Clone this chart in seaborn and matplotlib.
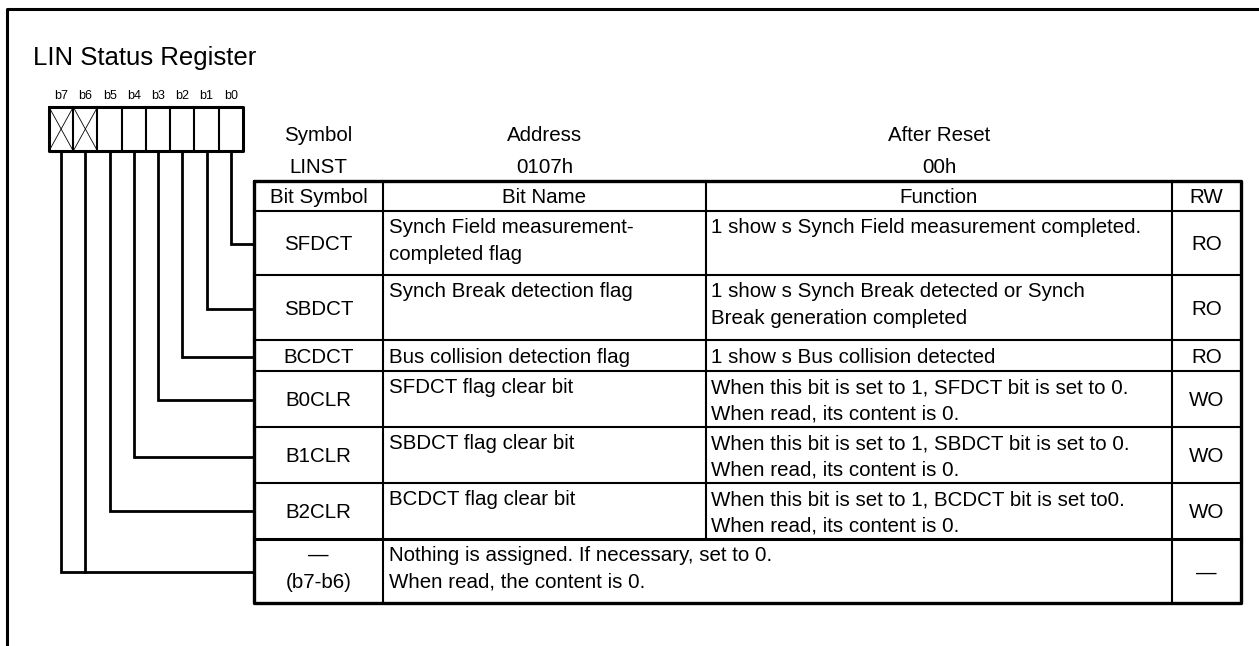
import matplotlib
matplotlib.use("Agg")
import matplotlib.pyplot as plt
import seaborn as sns

# register data
title = "LIN Status Register"
bit_labels = ["b7", "b6", "b5", "b4", "b3", "b2", "b1", "b0"]
reserved_bits = ["b7", "b6"]

head_names = ["Symbol", "Address", "After Reset"]
head_values = ["LINST", "0107h", "00h"]
col_titles = ["Bit Symbol", "Bit Name", "Function", "RW"]

bit_symbols = [["SFDCT"], ["SBDCT"], ["BCDCT"], ["B0CLR"], ["B1CLR"], ["B2CLR"],
               ["\u2014", "(b7-b6)"]]
bit_names = [["Synch Field measurement-", "completed flag"],
             ["Synch Break detection flag"],
             ["Bus collision detection flag"],
             ["SFDCT flag clear bit"],
             ["SBDCT flag clear bit"],
             ["BCDCT flag clear bit"],
             ["Nothing is assigned. If necessary, set to 0.",
              "When read, the content is 0."]]
functions = [["1 show s Synch Field measurement completed."],
             ["1 show s Synch Break detected or Synch", "Break generation completed"],
             ["1 show s Bus collision detected"],
             ["When this bit is set to 1, SFDCT bit is set to 0.", "When read, its content is 0."],
             ["When this bit is set to 1, SBDCT bit is set to 0.", "When read, its content is 0."],
             ["When this bit is set to 1, BCDCT bit is set to0.", "When read, its content is 0."],
             []]
rw = ["RO", "RO", "RO", "WO", "WO", "WO", "\u2014"]
row_bits = [["b0"], ["b1"], ["b2"], ["b3"], ["b4"], ["b5"], ["b7", "b6"]]

# layout (pixel units)
W, H = 1259, 646
col_edges = [254, 383, 706, 1172, 1241]
row_edges = [181, 211, 275, 340, 371, 427, 483, 539, 603]
leader_y = [244, 309, 357, 400, 457, 511, 572]
box_x0, box_y0, box_y1, cell_w = 49, 107, 151, 24.25
FS = 14.8

sns.set_theme(style="white")
plt.rcParams["font.family"] = ["Liberation Sans", "DejaVu Sans"]
plt.rcParams["text.color"] = "black"

fig = plt.figure(figsize=(W / 100, H / 100), dpi=100)
ax = fig.add_axes([0, 0, 1, 1])
ax.set_xlim(0, W)
ax.set_ylim(H, 0)
ax.axis("off")

k = dict(color="black", solid_capstyle="projecting")

# page frame
ax.plot([7, 7, W], [H, 9, 9], lw=2.2, **k)

ax.text(33, 65, title, fontsize=18.5, va="baseline", ha="left")

# bit boxes
bit_x = {}
for i, b in enumerate(bit_labels):
    xl = box_x0 + i * cell_w
    bit_x[b] = xl + cell_w / 2
    ax.text(bit_x[b], 99, b, fontsize=9, ha="center", va="baseline")
    if i > 0:
        ax.plot([xl, xl], [box_y0, box_y1], lw=1.5, **k)
    if b in reserved_bits:
        ax.plot([xl, xl + cell_w], [box_y0, box_y1], lw=0.6, color="black")
        ax.plot([xl, xl + cell_w], [box_y1, box_y0], lw=0.6, color="black")
box_x1 = box_x0 + cell_w * len(bit_labels)
ax.plot([box_x0, box_x1, box_x1, box_x0, box_x0],
        [box_y0, box_y0, box_y1, box_y1, box_y0], lw=2.2, color="black")

# leader lines
for bits, y in zip(row_bits, leader_y):
    for j, b in enumerate(bits):
        if j == 0:
            ax.plot([bit_x[b], bit_x[b], col_edges[0]], [box_y1, y, y],
                    lw=2.0, color="black", solid_joinstyle="miter")
        else:
            ax.plot([bit_x[b], bit_x[b]], [box_y1, y], lw=2.0, **k)

# header above table
for j in range(3):
    cx = (col_edges[j] + col_edges[j + 1]) / 2
    ax.text(cx, 141, head_names[j], fontsize=FS, ha="center", va="baseline")
    ax.text(cx, 173, head_values[j], fontsize=FS, ha="center", va="baseline")

# table grid
t, b = row_edges[0], row_edges[-1]
l, r = col_edges[0], col_edges[-1]
for y in row_edges[1:-1]:
    ax.plot([l, r], [y, y], lw=2.2 if y == row_edges[-2] else 1.5, **k)
ax.plot([col_edges[1]] * 2, [t, b], lw=1.5, **k)
ax.plot([col_edges[2]] * 2, [t, row_edges[-2]], lw=1.5, **k)
ax.plot([col_edges[3]] * 2, [t, b], lw=1.5, **k)
ax.plot([l, r, r, l, l], [t, t, b, b, t], lw=2.4, color="black")

cap = FS / 72 * 100 * 0.716 / 2
for j, name in enumerate(col_titles):
    cx = (col_edges[j] + col_edges[j + 1]) / 2
    ax.text(cx, (row_edges[0] + row_edges[1]) / 2 + cap, name,
            fontsize=FS, ha="center", va="baseline")


def put_lines(x, top, bottom, lines, ha):
    if len(lines) == 2 or bottom - top > 40:
        for n, s in enumerate(lines):
            ax.text(x, top + 22 + 27 * n, s, fontsize=FS, ha=ha, va="baseline")
    else:
        for s in lines:
            ax.text(x, (top + bottom) / 2 + cap, s, fontsize=FS, ha=ha, va="baseline")


for i in range(len(bit_symbols)):
    top, bot = row_edges[i + 1], row_edges[i + 2]
    c0 = (col_edges[0] + col_edges[1]) / 2
    if len(bit_symbols[i]) == 2:
        put_lines(c0, top, bot, bit_symbols[i], "center")
    else:
        ax.text(c0, (top + bot) / 2 + cap, bit_symbols[i][0], fontsize=FS,
                ha="center", va="baseline")
    put_lines(col_edges[1] + 6, top, bot, bit_names[i], "left")
    put_lines(col_edges[2] + 5, top, bot, functions[i], "left")
    c3 = (col_edges[3] + col_edges[4]) / 2
    ax.text(c3, (top + bot) / 2 + cap, rw[i], fontsize=FS, ha="center", va="baseline")

fig.savefig("out.png", dpi=100, facecolor="white")
